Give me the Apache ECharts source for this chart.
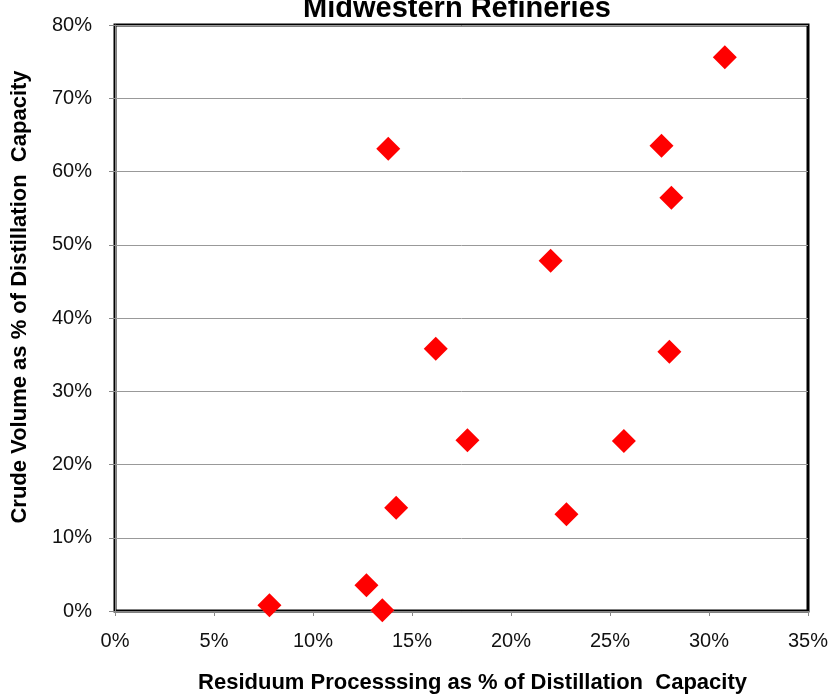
<!DOCTYPE html>
<html>
<head>
<meta charset="utf-8">
<script src="https://cdn.jsdelivr.net/npm/echarts@6/dist/echarts.min.js"></script>
<style>
html,body{margin:0;padding:0;background:#fff;}
#chart{width:830px;height:695px;}
</style>
</head>
<body>
<div id="chart"></div>
<script>
// residuum processing % (x) vs crude volume % (y)
var residuum = [30.8, 13.8, 27.6, 28.1, 22.0, 16.2, 28.0, 17.8, 25.7, 14.2, 22.8, 12.7, 7.8, 13.5];
var crude    = [75.6, 63.1, 63.5, 56.4, 47.8, 35.8, 35.4, 23.3, 23.2, 14.1, 13.2, 3.5, 0.8, 0.1];

var points = [];
for (var i = 0; i < residuum.length; i++) {
    points.push([residuum[i], crude[i]]);
}

var font = '"Liberation Sans", Arial, sans-serif';
var chart = echarts.init(document.getElementById('chart'));

chart.setOption({
    animation: false,
    title: {
        text: 'Midwestern Refineries',
        left: 452,
        textAlign: 'center',
        top: -11,
        textStyle: {fontFamily: font, fontSize: 29, fontWeight: 'bold', color: '#000'}
    },
    grid: {
        left: 115, right: 22, top: 25, bottom: 84,
        outerBoundsMode: 'none',
        show: true,
        borderColor: '#000',
        borderWidth: 3
    },
    xAxis: {
        type: 'value',
        min: 0, max: 35, interval: 5,
        name: 'Residuum Processsing as % of Distillation  Capacity',
        nameLocation: 'middle',
        nameGap: 61,
        nameTextStyle: {fontFamily: font, fontSize: 22, fontWeight: 'bold', color: '#000', padding: [0, 0, 0, 22]},
        axisLine: {onZero: false, lineStyle: {color: '#888', width: 1}},
        axisTick: {show: true, length: 5, lineStyle: {color: '#888'}},
        axisLabel: {formatter: '{value}%', fontFamily: font, fontSize: 20, color: '#111', margin: 20},
        splitLine: {show: false}
    },
    yAxis: {
        type: 'value',
        min: 0, max: 80, interval: 10,
        name: 'Crude Volume as % of Distillation  Capacity',
        nameLocation: 'middle',
        nameGap: 84,
        nameTextStyle: {fontFamily: font, fontSize: 22, fontWeight: 'bold', color: '#000', padding: [0, 0, 0, 42]},
        axisLine: {show: true, lineStyle: {color: '#888', width: 1}},
        axisTick: {show: true, length: 6, lineStyle: {color: '#888'}},
        axisLabel: {formatter: '{value}%', fontFamily: font, fontSize: 20, color: '#111', margin: 23},
        splitLine: {show: true, lineStyle: {color: '#999', width: 1}}
    },
    series: [{
        type: 'scatter',
        data: points,
        symbol: 'diamond',
        symbolSize: [24, 24],
        itemStyle: {color: '#ff0000', opacity: 1}
    }]
});
</script>
</body>
</html>
